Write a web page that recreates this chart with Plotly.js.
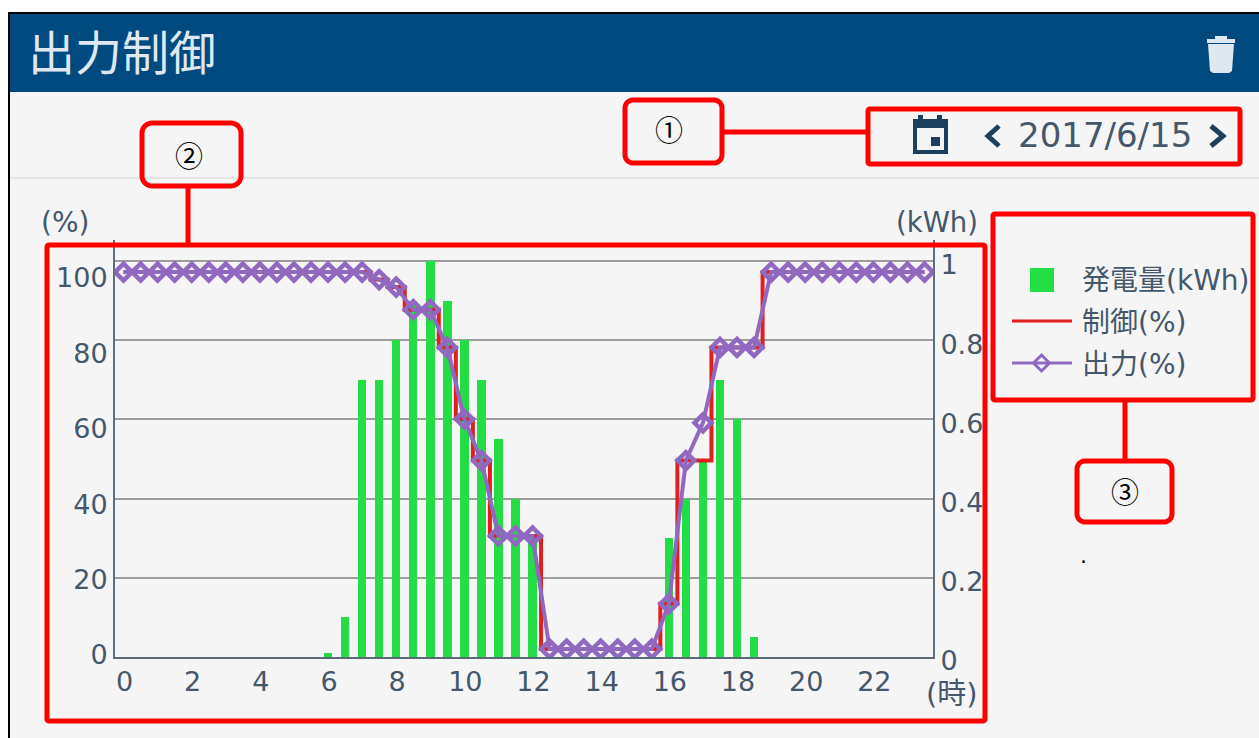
<!DOCTYPE html>
<html><head><meta charset="utf-8">
<script src="https://cdn.plot.ly/plotly-3.0.1.min.js"></script>
<style>html,body{margin:0;padding:0;background:#fff;overflow:hidden}#c{width:1259px;height:738px}</style>
</head><body><div id="c"></div>
<script>
const hours = [0,0.5,1,1.5,2,2.5,3,3.5,4,4.5,5,5.5,6,6.5,7,7.5,8,8.5,9,9.5,10,10.5,11,11.5,12,12.5,13,13.5,14,14.5,15,15.5,16,16.5,17,17.5,18,18.5,19,19.5,20,20.5,21,21.5,22,22.5,23,23.5];
const generation = [0,0,0,0,0,0,0,0,0,0,0,0,0.01,0.1,0.7,0.7,0.8,0.9,1,0.9,0.8,0.7,0.55,0.4,0.3,0,0,0,0,0,0,0,0.3,0.4,0.5,0.7,0.6,0.05,0,0,0,0,0,0,0,0,0,0];
const control = [100,100,100,100,100,100,100,100,100,100,100,100,100,100,100,98,96,90,90,80,61,50,30,30,30,0,0,0,0,0,0,0,12,50,50,80,80,80,100,100,100,100,100,100,100,100,100,100];
const output = [100,100,100,100,100,100,100,100,100,100,100,100,100,100,100,98,96,90,90,80,61,50,30,30,30,0,0,0,0,0,0,0,12,50,60,80,80,80,100,100,100,100,100,100,100,100,100,100];
const leftTicks = [0,20,40,60,80,100];
const rightTicks = [0,0.2,0.4,0.6,0.8,1];
const rightLabels = ['0','0.2','0.4','0.6','0.8','1'];
const xTicks = [0,2,4,6,8,10,12,14,16,18,20,22];

const FONT = 'DejaVu Sans, "Noto Sans CJK JP", sans-serif';
const CJK = '"Noto Sans CJK JP", sans-serif';
const INK = '#45586b', NAVY = '#1d3f5e', RED = '#ff0000', PAPER = '#f5f5f5', HEAD = '#004a80', PALE = '#dfe8f0';
const GREEN = '#22dd44', LRED = '#e02020', PURPLE = '#9068c0';

const L = 115, R = 933, T = 240, B = 657;
const px = v => (v - L) / (R - L), py = v => (B - v) / (B - T);
const P = {xref: 'paper', yref: 'paper'};
const rect = (x0, y0, x1, y1, fill, line) => ({...P, type: 'rect', x0: px(x0), x1: px(x1), y0: py(y0), y1: py(y1),
  fillcolor: fill || 'rgba(0,0,0,0)', line: line || {width: 0}, layer: 'below'});
const seg = (x0, y0, x1, y1, color, w) => ({...P, type: 'line', x0: px(x0), x1: px(x1), y0: py(y0), y1: py(y1),
  line: {color: color, width: w}});
const path = (pts, closed, fill, color, w, top) => ({...P, type: 'path',
  path: pts.map((p, i) => (i ? 'L' : 'M') + px(p[0]) + ',' + py(p[1])).join(' ') + (closed ? ' Z' : ''),
  fillcolor: fill || 'rgba(0,0,0,0)', line: {color: color || 'rgba(0,0,0,0)', width: w || 0}, layer: top ? 'above' : 'below'});
const rbox = (x0, y0, x1, y1, r) => {
  const pts = [], steps = 6, corner = (cx, cy, a0) => { for (let i = 0; i <= steps; i++) { const a = a0 + i / steps * Math.PI / 2; pts.push([cx + r * Math.cos(a), cy + r * Math.sin(a)]); } };
  corner(x1 - r, y0 + r, -Math.PI / 2); corner(x1 - r, y1 - r, 0); corner(x0 + r, y1 - r, Math.PI / 2); corner(x0 + r, y0 + r, Math.PI);
  return path(pts, true, null, RED, 5, true);
};
const text = (t, x, y, size, color, family, anchor) => ({...P, text: t, x: px(x), y: py(y), showarrow: false,
  xanchor: anchor || 'center', yanchor: 'middle', font: {size: size, color: color, family: family || FONT}, borderpad: 0});

const shapes = [
  rect(9, 13, 1259, 738, PAPER),
  rect(8, 12, 10, 738, '#000'),
  rect(8, 12, 1259, 14, '#000'),
  rect(10, 14, 1259, 92, HEAD),
  rect(10, 177, 1259, 179, '#e6e6e6'),
  // trash icon
  rect(1207, 39, 1235, 43, PALE), rect(1215, 36, 1227, 39, PALE),
  path([[1208, 44], [1234, 44], [1232, 71], [1229, 73], [1213, 73], [1210, 71]], true, PALE),
  // calendar icon
  rect(913, 119, 948, 154, NAVY), rect(918, 115, 923, 122, NAVY), rect(937, 115, 942, 122, NAVY),
  rect(917, 128, 944, 150, PAPER), rect(931, 137, 940, 146, NAVY),
  path([[999, 126], [988, 136], [999, 146]], false, null, NAVY, 5),
  path([[1211, 126], [1223, 136], [1211, 146]], false, null, NAVY, 5),
  // callouts
  rbox(625, 100, 722, 163, 8), rbox(868, 109, 1240, 164, 2), seg(722, 132, 868, 132, RED, 5),
  rbox(142, 123, 241, 186, 10), seg(188, 186, 188, 246, RED, 5), rbox(47, 245, 985, 721, 2),
  rbox(993, 214, 1253, 400, 2), seg(1125, 400, 1125, 461, RED, 5), rbox(1077, 461, 1172, 522, 8),
  // key
  rect(1030, 268, 1054, 292, GREEN),
  seg(1012, 321, 1072, 321, LRED, 3),
  seg(1012, 363, 1072, 363, PURPLE, 3),
  path([[1041.5, 355], [1049.5, 363], [1041.5, 371], [1033.5, 363]], true, null, PURPLE, 3, true)
];
const annotations = [
  text('出力制御', 122, 50, 47, PALE, CJK),
  text('2017/6/15', 1105, 135, 34, INK),
  text('①', 669, 129, 28, '#000', CJK),
  text('②', 189, 155, 28, '#000', CJK),
  text('③', 1125, 491, 28, '#000', CJK),
  text('.', 1083, 555, 22, '#000'),
  text('(%)', 65, 222, 28, INK),
  text('(kWh)', 937, 222, 27.5, INK),
  text('(時)', 952, 694, 29, INK),
  text('発電量(kWh)', 1081, 280, 28, INK, FONT, 'left'),
  text('制御(%)', 1081, 322, 28, INK, FONT, 'left'),
  text('出力(%)', 1081, 364, 28, INK, FONT, 'left')
];

const traces = [
  {type: 'bar', name: '発電量(kWh)', x: hours, y: generation, yaxis: 'y', marker: {color: GREEN, line: {width: 0}}, width: 0.25},
  {type: 'scatter', mode: 'lines', name: '制御(%)', x: hours, y: control, yaxis: 'y2', line: {color: LRED, width: 4, shape: 'hvh'}},
  {type: 'scatter', mode: 'lines+markers', name: '出力(%)', x: hours, y: output, yaxis: 'y2', line: {color: PURPLE, width: 4},
   marker: {symbol: 'diamond-open', size: 13, color: PURPLE, line: {color: PURPLE, width: 4.5}}}
];
const tickFont = {family: FONT, size: 27, color: INK};
const layout = {
  width: 1259, height: 738, showlegend: false, paper_bgcolor: '#fff', plot_bgcolor: 'rgba(0,0,0,0)',
  margin: {l: L, r: 1259 - R, t: T, b: 738 - B, pad: 0},
  bargap: 0,
  xaxis: {range: [-0.25, 23.75], tickmode: 'array', tickvals: xTicks, ticktext: xTicks.map(String), ticks: '', tickfont: tickFont,
    showgrid: false, zeroline: false, showline: true, linecolor: '#5a6a78', linewidth: 2, ticklabelstandoff: 0, ticklabelshift: 1},
  yaxis: {range: [0, 417 / 396], side: 'right', tickmode: 'array', tickvals: rightTicks, ticktext: rightLabels, ticks: '', tickfont: tickFont,
    showgrid: true, gridcolor: '#9c9c9c', gridwidth: 2, zeroline: false, showline: true, linecolor: '#5a7080', linewidth: 2,
    ticklabelstandoff: 0, ticklabelshift: 4},
  yaxis2: {overlaying: 'y', side: 'left', range: [-2.12, 108.5], tickmode: 'array', tickvals: leftTicks, ticktext: leftTicks.map(String), ticks: '', tickfont: tickFont,
    showgrid: false, zeroline: false, showline: true, linecolor: '#5a7080', linewidth: 2, ticklabelstandoff: 0, ticklabelshift: 6},
  shapes, annotations
};
Plotly.newPlot('c', traces, layout, {displayModeBar: false, staticPlot: true});
</script></body></html>
